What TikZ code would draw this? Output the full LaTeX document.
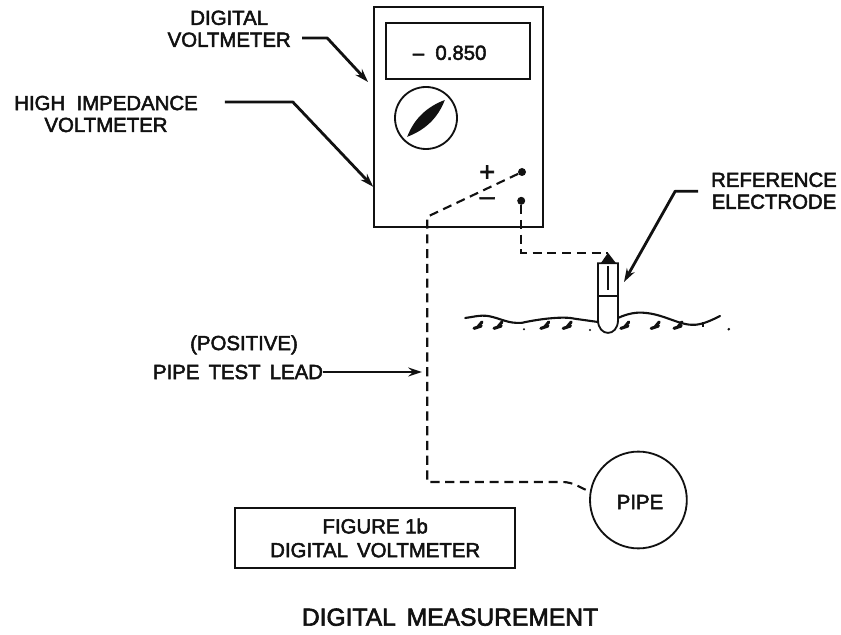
\documentclass[tikz,border=0pt]{standalone}
\usepackage{fontspec}
\setmainfont{Liberation Sans}
\newfontface\inkface{Liberation Sans}[FakeBold=2.5]
\usetikzlibrary{arrows.meta,positioning,calc}
\definecolor{ink}{HTML}{111111}
\tikzset{
  lbl/.style={font=\inkface\fontsize{14.5}{15.6}\selectfont,text=ink,align=center,inner sep=0pt},
  signlbl/.style={font=\inkface\fontsize{19}{19}\selectfont,text=ink,inner sep=0pt},
  outline/.style={draw=ink,line width=1.3pt,inner sep=0pt},
  leadline/.style={draw=ink,line width=1.5pt,dash pattern=on 6.5pt off 4pt},
  callout/.style={-{Stealth[length=3.4mm,width=2.2mm]},draw=ink,line width=2pt,line join=round},
  terminal/.style={circle,fill=ink,inner sep=0pt,minimum size=2mm},
  groundblob/.style={draw=ink,line width=2.2pt,line cap=round}
}
\begin{document}
\begin{tikzpicture}[x=1cm,y=1cm]
    \path[use as bounding box] (0,0) rectangle (21.025,15.85);
    % meter
    \node[outline,minimum width=4.24cm,minimum height=5.5cm] (meter) at (11.46,12.93) {};
    \node[outline,minimum width=3.6cm,minimum height=1.4cm] (display) at (11.45,14.58) {};
    \node[lbl] (reading) at (11.24,14.53) {–\ \ 0.850};
    \node[outline,circle,minimum size=1.55cm] (dial) at (10.65,12.9) {};
    \fill[ink] (10.18,12.43) .. controls (10.35,12.88) and (10.67,13.18) .. (11.12,13.35)
      .. controls (10.95,12.9) and (10.63,12.6) .. cycle;
    \node[signlbl] (plussign) at (12.18,11.52) {+};
    \node[signlbl] (minussign) at (12.18,10.82) {–};
    \node[terminal] (plusterm) at (13.05,11.55) {};
    \node[terminal] (minusterm) at (13.03,10.83) {};
    % leads
    \coordinate (bend) at (10.68,10.43);
    \node[outline,circle,minimum size=2.42cm] (pipe) at (15.96,3.35) {};
    \node[lbl] (pipetxt) at (16.0,3.3) {PIPE};
    \node[outline,lbl,minimum width=7cm,minimum height=1.5cm] (caption) at (9.38,2.4)
      {FIGURE 1b\\[1.4pt]DIGITAL\ \,VOLTMETER};
    \draw[leadline] (plusterm) -- (bend) -- (10.68,3.8) -- (14.05,3.8)
      .. controls (14.35,3.8) and (14.5,3.65) .. (pipe.170);
    \coordinate (elecTop) at (15.2,9.53);
    \draw[leadline] (minusterm) -- (13.03,9.53) -- (elecTop);
    % electrode
    \draw[outline] (14.95,9.27) -- (14.95,7.85) .. controls (14.95,7.42) and (15.45,7.42) .. (15.45,7.85)
      -- (15.45,9.27) -- cycle;
    \draw[outline] (14.95,8.45) -- (15.45,8.45);
    \draw[outline,line width=1.8pt] (15.2,9.2) -- (15.2,8.6);
    \fill[ink] (15.02,9.27) -- (15.2,9.53) -- (15.4,9.27) -- cycle;
    % ground
    \draw[ink,line width=1.5pt,line cap=round] (11.63,7.9) .. controls (11.8,7.92) and (12.0,7.98) .. (12.2,7.95)
      .. controls (12.5,7.9) and (12.7,7.75) .. (13.05,7.78)
      .. controls (13.5,7.88) and (14.1,7.95) .. (14.38,7.88) -- (14.95,7.8)
      (15.45,7.9) .. controls (15.7,8.02) and (15.95,8.05) .. (16.1,8.03)
      .. controls (16.6,8.0) and (17.0,7.7) .. (17.38,7.73)
      .. controls (17.6,7.75) and (17.8,7.85) .. (18.0,7.95);
    \foreach \gx in {11.95,12.45,13.62,14.18,15.62,16.38,16.95}
      \draw[groundblob] (\gx-0.1,7.64) -- (\gx+0.08,7.7) (\gx,7.68) -- (\gx+0.1,7.8);
    \draw[ink,line width=1.2pt] (17.58,7.68) -- (17.58,7.8);
    \fill[ink] (18.22,7.62) circle (1pt) (13.1,7.62) circle (0.8pt) (14.75,7.6) circle (0.8pt);
    % labels
    \node[lbl] (digitalv) at (5.73,15.13) {DIGITAL\\VOLTMETER};
    \node[lbl] (highimp) at (2.65,13.0) {HIGH\ \ IMPEDANCE\\VOLTMETER};
    \node[lbl] (refelec) at (19.35,11.08) {REFERENCE\\ELECTRODE};
    \node[lbl] (poslbl) at (6.1,7.23) {(POSITIVE)};
    \node[lbl] (testlead) at (5.95,6.55) {PIPE\ \,TEST\ \,LEAD};
    \node[lbl,font=\inkface\fontsize{17.5}{18}\selectfont] (title) at (11.25,0.42) {DIGITAL\ \,MEASUREMENT};
    \coordinate (toMeterA) at (9.2,13.8);
    \coordinate (toMeterB) at (9.33,11.18);
    \coordinate (toElec) at (15.6,8.8);
    \coordinate (toLead) at (10.55,6.55);
    \draw[callout] (7.55,14.9) -- (8.18,14.9) -- (toMeterA);
    \draw[callout] (5.62,13.3) -- (7.32,13.3) -- (toMeterB);
    \draw[callout] (17.45,11.07) -- (16.88,11.07) -- (toElec);
    \draw[callout,line width=1.5pt] (testlead) -- (toLead);
\end{tikzpicture}
\end{document}
